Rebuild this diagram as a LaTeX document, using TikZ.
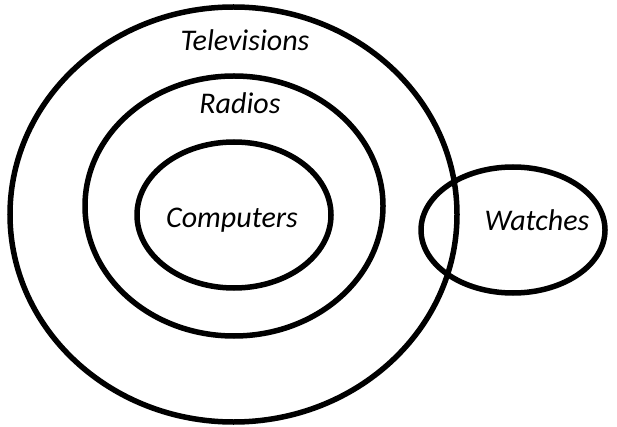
\documentclass[tikz,border=0pt]{standalone}
\usepackage{fontspec}
\setmainfont{Carlito}
\begin{document}
\begin{tikzpicture}[x=1pt,y=-1pt,
  ring/.style={draw=black,line width=5.5pt},
  lbl/.style={font=\fontsize{30}{33}\selectfont\itshape,inner sep=0pt}]
\useasboundingbox (0,0) rectangle (617,427);
\draw[ring] (233.5,214.5) ellipse [x radius=223.5,y radius=207.5];
\draw[ring] (234,206) ellipse [x radius=149,y radius=130];
\draw[ring] (234,215) ellipse [x radius=97,y radius=73];
\draw[ring] (513,230) ellipse [x radius=92,y radius=63];
\node[lbl] (tv) at (245,40) {Televisions};
\node[lbl] (radio) at (240,103) {Radios};
\node[lbl] (comp) at (232,220) {Computers};
\node[lbl] (watch) at (537,220) {Watches};
\end{tikzpicture}
\end{document}
